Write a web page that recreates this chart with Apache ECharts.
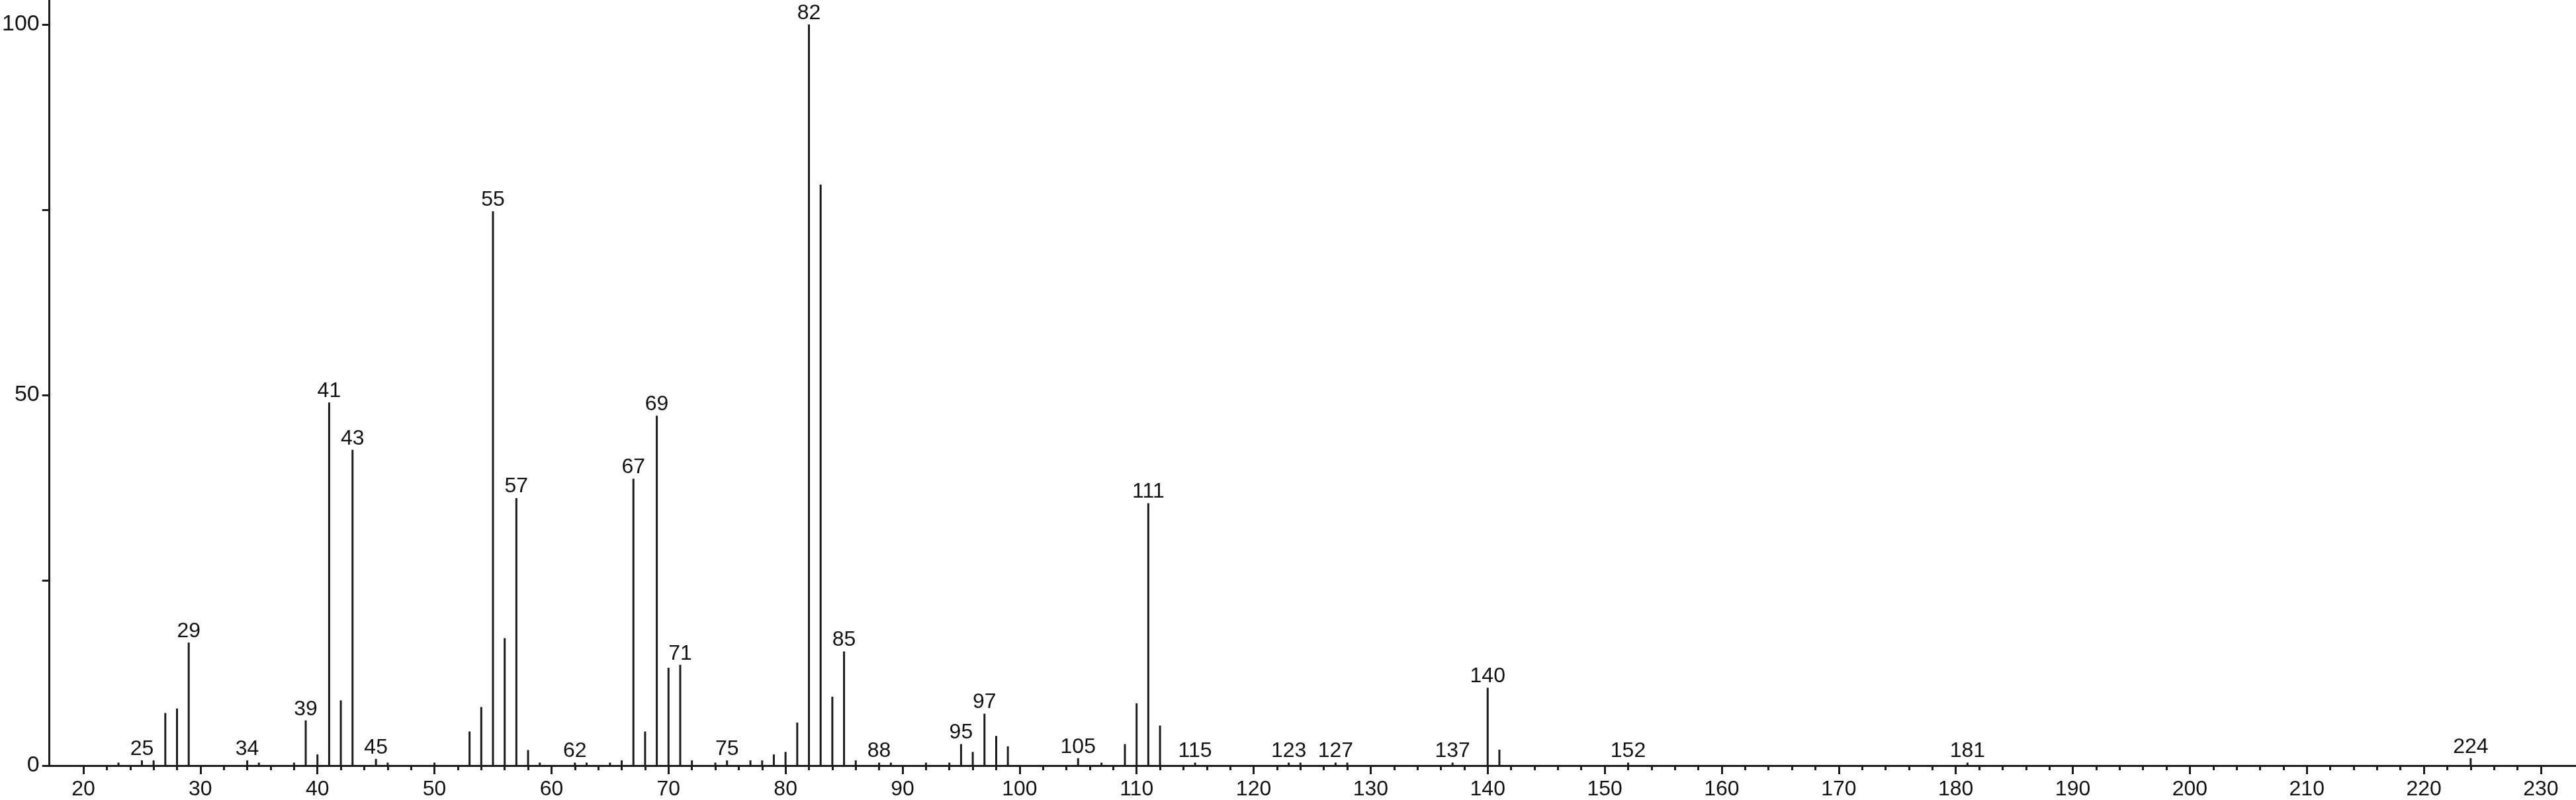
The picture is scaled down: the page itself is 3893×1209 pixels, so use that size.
<!DOCTYPE html>
<html>
<head>
<meta charset="utf-8">
<script src="https://cdn.jsdelivr.net/npm/echarts@6/dist/echarts.min.js"></script>
<style>
html,body{margin:0;padding:0;background:#fff;}
#chart{width:3893px;height:1209px;}
</style>
</head>
<body>
<div id="chart"></div>
<script>
// m/z values of the peaks
var mz = [23,25,26,27,28,29,34,35,38,39,40,41,42,43,45,46,50,53,54,55,56,57,58,59,62,63,65,66,67,68,69,70,71,72,74,75,77,78,79,80,81,82,83,84,85,86,88,89,92,94,95,96,97,98,99,105,107,109,110,111,112,115,123,124,127,128,137,140,141,152,181,224];
// relative intensities (%)
var intensity = [0.4,0.7,0.7,7.1,7.7,16.6,0.7,0.4,0.4,6.1,1.5,49.0,8.8,42.6,0.9,0.4,0.4,4.6,7.9,74.8,17.2,36.1,2.1,0.4,0.4,0.4,0.4,0.7,38.7,4.6,47.2,13.2,13.6,0.7,0.4,0.7,0.7,0.7,1.5,1.85,5.8,100,78.4,9.3,15.4,0.7,0.4,0.4,0.4,0.4,2.9,1.85,7.0,4.0,2.6,1.0,0.4,2.9,8.4,35.4,5.4,0.4,0.4,0.4,0.4,0.4,0.4,10.5,2.15,0.4,0.4,1.0];
// peaks carrying an m/z label
var labelledPeaks = [25,29,34,39,41,43,45,55,57,62,67,69,71,75,82,85,88,95,97,105,111,115,123,127,137,140,152,181,224];
// axis tick labels
var xTickLabels = [20,30,40,50,60,70,80,90,100,110,120,130,140,150,160,170,180,190,200,210,220,230];
var xMinorTicks = [22,24,26,28,32,34,36,38,42,44,46,48,52,54,56,58,62,64,66,68,72,74,76,78,82,84,86,88,92,94,96,98,102,104,106,108,112,114,116,118,122,124,126,128,132,134,136,138,142,144,146,148,152,154,156,158,162,164,166,168,172,174,176,178,182,184,186,188,192,194,196,198,202,204,206,208,212,214,216,218,222,224,226,228];
var yTicks = [0,25,50,75,100];
var yTickLabels = [0,50,100];

var INK = '#1b1b1b';
var FONT = '"Liberation Sans", Arial, sans-serif';

var data = mz.map(function (m, i) {
  var d = { value: [m, intensity[i]] };
  if (labelledPeaks.indexOf(m) >= 0) {
    d.label = { show: true };
  }
  return d;
});

var chart = echarts.init(document.getElementById('chart'), null, { renderer: 'canvas' });
chart.setOption({
  animation: false,
  backgroundColor: '#ffffff',
  grid: { left: 68, right: 0, top: 0, bottom: 49, containLabel: false },
  xAxis: [{
    type: 'value',
    min: 17.1,
    max: 233.0,
    axisLine: { show: true, onZero: false, lineStyle: { color: INK, width: 3 } },
    axisTick: { show: true, inside: false, length: 13, lineStyle: { color: INK, width: 3 }, customValues: xTickLabels },
    axisLabel: { show: true, margin: 20, fontSize: 32, color: '#111', fontFamily: FONT, customValues: xTickLabels },
    splitLine: { show: false }
  }, {
    type: 'value',
    min: 17.1,
    max: 233.0,
    position: 'bottom',
    axisLine: { show: false, onZero: false },
    axisTick: { show: true, inside: false, length: 7, lineStyle: { color: INK, width: 3 }, customValues: xMinorTicks },
    axisLabel: { show: false },
    splitLine: { show: false }
  }],
  yAxis: {
    type: 'value',
    min: 0,
    max: 103.3,
    axisLine: { show: true, lineStyle: { color: INK, width: 3 } },
    axisTick: { show: true, inside: false, length: 11, lineStyle: { color: INK, width: 3 }, customValues: yTicks },
    axisLabel: { show: true, margin: 15, fontSize: 34, color: '#111', fontFamily: FONT, customValues: yTickLabels },
    splitLine: { show: false }
  },
  series: [{
    type: 'bar',
    xAxisIndex: 0,
    yAxisIndex: 0,
    barWidth: 3,
    itemStyle: { color: INK },
    label: {
      show: false,
      position: 'top',
      distance: 1,
      fontSize: 32,
      color: '#111',
      fontFamily: FONT,
      formatter: function (p) { return p.value[0]; }
    },
    labelLayout: { hideOverlap: false },
    data: data
  }]
});
</script>
</body>
</html>
